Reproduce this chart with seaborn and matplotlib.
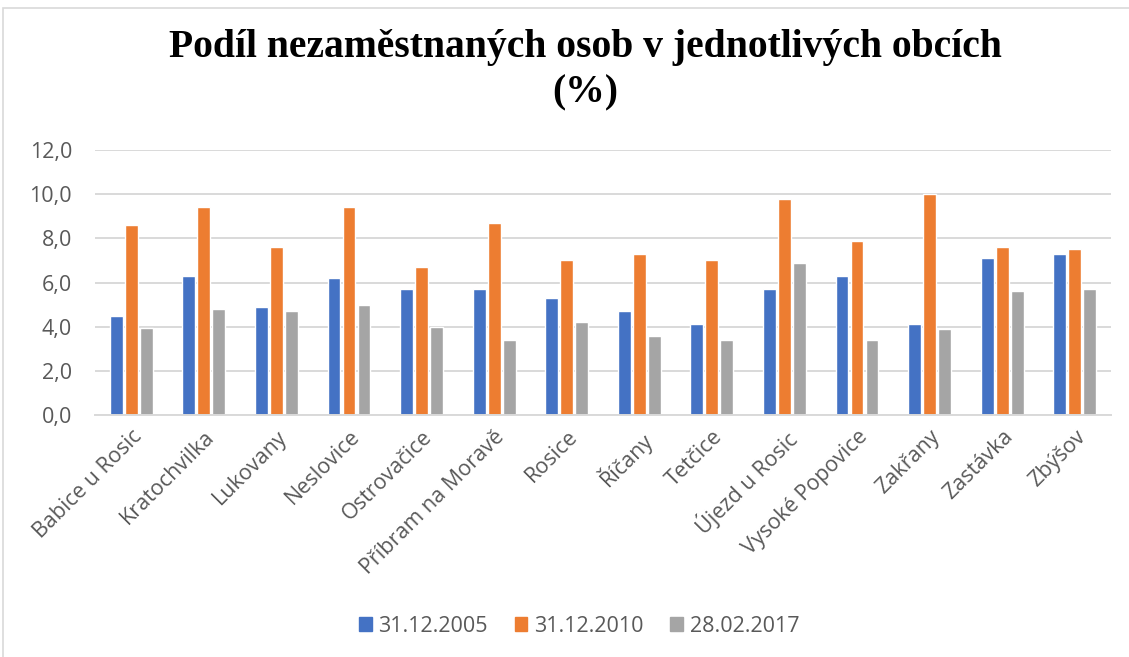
import matplotlib
matplotlib.use("Agg")
import matplotlib.pyplot as plt
import matplotlib.patches as mpatches
import seaborn as sns
import pandas as pd

categories = ["Babice u Rosic", "Kratochvilka", "Lukovany", "Neslovice", "Ostrovačice",
              "Příbram na Moravě", "Rosice", "Říčany", "Tetčice", "Újezd u Rosic",
              "Vysoké Popovice", "Zakřany", "Zastávka", "Zbýšov"]
series = ["31.12.2005", "31.12.2010", "28.02.2017"]
v2005 = [4.5, 6.3, 4.9, 6.2, 5.7, 5.7, 5.3, 4.7, 4.1, 5.7, 6.3, 4.1, 7.1, 7.3]
v2010 = [8.6, 9.4, 7.6, 9.4, 6.7, 8.7, 7.0, 7.3, 7.0, 9.8, 7.9, 10.0, 7.6, 7.5]
v2017 = [3.95, 4.8, 4.7, 5.0, 4.0, 3.4, 4.2, 3.6, 3.4, 6.9, 3.4, 3.9, 5.6, 5.7]
colors = ["#4472C4", "#ED7D31", "#A5A5A5"]

rows = []
for s, vals in zip(series, [v2005, v2010, v2017]):
    for c, v in zip(categories, vals):
        rows.append({"obec": c, "datum": s, "hodnota": v})
df = pd.DataFrame(rows)

sns.set_theme(style="white")
plt.rcParams["font.family"] = ["Open Sans", "DejaVu Sans"]

W, H = 1129, 657
fig = plt.figure(figsize=(W / 100, H / 100), dpi=100)
ax = fig.add_axes([95 / W, 1 - 415 / H, (1111 - 95) / W, (415 - 150) / H])

sns.barplot(data=df, x="obec", y="hodnota", hue="datum", hue_order=series,
            order=categories, palette=colors, width=0.62, gap=0.15,
            saturation=1, ax=ax, legend=False)

ax.set_ylim(0, 12)
ax.set_xlim(-0.5, len(categories) - 0.5)
ax.set_yticks([0, 2, 4, 6, 8, 10, 12])
ax.set_yticklabels([f"{t:.1f}".replace(".", ",") for t in [0, 2, 4, 6, 8, 10, 12]])
ax.yaxis.grid(True, color="#D9D9D9", linewidth=1.4)
ax.set_axisbelow(True)
for sp in ["top", "right", "left"]:
    ax.spines[sp].set_visible(False)
ax.spines["bottom"].set_color("#D9D9D9")
ax.spines["bottom"].set_linewidth(1.4)
ax.tick_params(axis="both", length=0, colors="#595959", labelsize=15.5)
ax.tick_params(axis="y", pad=16.5)
ax.set_xlabel("")
ax.set_ylabel("")
plt.setp(ax.get_xticklabels(), rotation=45, ha="right", rotation_mode="anchor")
ax.tick_params(axis="x", pad=8)

fig.text(585 / W, 1 - 47 / H, "Podíl nezaměstnaných osob v jednotlivých obcích",
         ha="center", va="center", fontsize=28.5, fontweight="bold",
         family=["Liberation Serif", "DejaVu Serif"], color="black")
fig.text(585 / W, 1 - 93 / H, "(%)", ha="center", va="center", fontsize=28.5,
         fontweight="bold", family=["Liberation Serif", "DejaVu Serif"], color="black")

handles = [mpatches.Patch(color=c, label=s) for c, s in zip(colors, series)]
leg = fig.legend(handles=handles, loc="center", bbox_to_anchor=(579 / W, 1 - 626 / H),
                 ncol=3, frameon=False, fontsize=15.5, handlelength=0.6, handleheight=0.6,
                 handletextpad=0.3, columnspacing=1.25)
for t in leg.get_texts():
    t.set_color("#595959")

border = mpatches.Rectangle((3 / W, -0.01), 1.02, 1 - 8 / H + 0.01, transform=fig.transFigure,
                            fill=False, edgecolor="#D9D9D9", linewidth=1.2)
fig.patches.append(border)

fig.savefig("out.png", dpi=100)
